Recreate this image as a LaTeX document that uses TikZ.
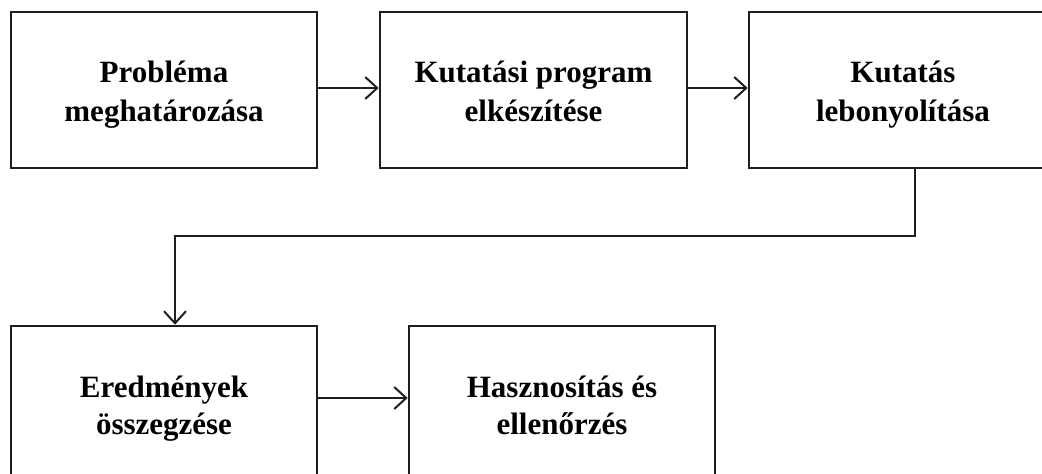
\documentclass[tikz,border=0pt]{standalone}
\usepackage{fontspec}
\setmainfont{Liberation Serif}
\usetikzlibrary{arrows.meta}
\begin{document}
\begin{tikzpicture}[x=1pt,y=1pt,
  box/.style={draw=black!88, line width=2.6pt, minimum width=306pt, minimum height=156pt, inner sep=0pt},
  txt/.style={anchor=base, font=\fontsize{31}{38}\selectfont\bfseries, inner sep=0pt},
  conn/.style={draw=black!88, line width=2pt},
  arr/.style={conn, -{Straight Barb[length=12pt,width=22pt,line width=2pt]}}]
\useasboundingbox (0,0) rectangle (1042,-474);
\node[box] (b1) at (164,-90) {};
\node[box, minimum width=307pt] (b2) at (533.5,-90) {};
\node[box, minimum width=308pt] (b3) at (903,-90) {};
\node[box] (b4) at (164,-404) {};
\node[box] (b5) at (562,-404) {};
\node[txt] (t1a) at ([yshift=8pt]b1.center) {Probléma};
\node[txt] (t1b) at ([yshift=-31pt]b1.center) {meghatározása};
\node[txt] (t2a) at ([yshift=8pt]b2.center) {Kutatási program};
\node[txt] (t2b) at ([yshift=-31pt]b2.center) {elkészítése};
\node[txt] (t3a) at ([yshift=8pt]b3.center) {Kutatás};
\node[txt] (t3b) at ([yshift=-31pt]b3.center) {lebonyolítása};
\node[txt] (t4a) at ([yshift=7pt]b4.center) {Eredmények};
\node[txt] (t4b) at ([yshift=-30pt]b4.center) {összegzése};
\node[txt] (t5a) at ([yshift=7pt]b5.center) {Hasznosítás és};
\node[txt] (t5b) at ([yshift=-30pt]b5.center) {ellenőrzés};
\coordinate (r1) at (0,-88);
\coordinate (r2) at (0,-398);
\coordinate (c1) at (915,-236);
\coordinate (c2) at (175,-236);
\draw[arr] (b1.east |- r1) -- (b2.west |- r1);
\draw[arr] (b2.east |- r1) -- (b3.west |- r1);
\draw[arr] (b3.south -| c1) -- (c1) -- (c2) -- (b4.north -| c2);
\draw[arr] (b4.east |- r2) -- (b5.west |- r2);
\end{tikzpicture}
\end{document}
